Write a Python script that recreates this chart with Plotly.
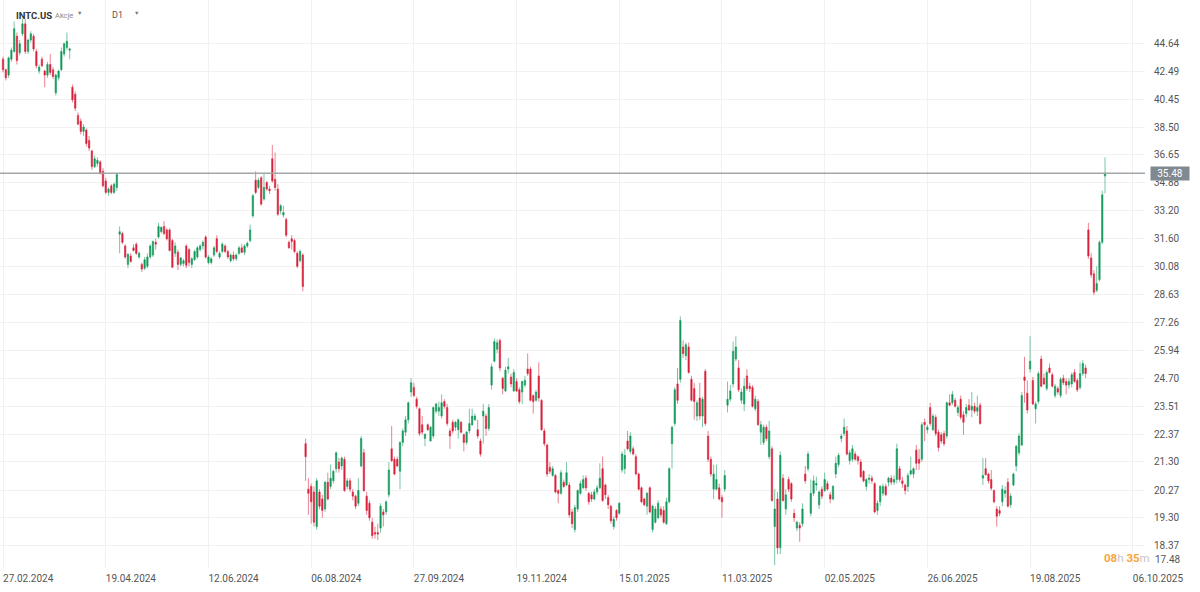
import math
import plotly.graph_objects as go

# INTC.US, swiece dzienne (D1), 27.02.2024 - 26.09.2025, wartosci
open_ = [
    43.4, 42.6, 42.2,  # 2024-02
    43.4, 44.0, 45.2, 43.9, 45.4, 46.2, 44.0, 44.9, 45.2, 44.0, 42.5, 43.4, 42.5, 42.2, 43.0, 42.6, 40.9, 42.0, 42.6, 43.8,  # 2024-03
    44.3, 44.1, 41.3, 40.8, 39.3, 38.9, 38.2, 38.3, 37.6, 36.9, 35.9, 36.1, 36.2, 35.6, 35.0, 34.3, 34.7, 34.3, 34.6, 31.85, 31.9, 31.2,  # 2024-04
    30.2, 30.65, 31.1, 31.3, 30.6, 30.2, 30.0, 30.1, 30.6, 30.7, 31.4, 31.7, 32.0, 32.3, 32.1, 32.1, 31.5, 30.8, 30.85, 30.2, 30.25, 31.2,  # 2024-05
    31.0, 30.2, 30.45, 30.6, 31.0, 31.2, 31.7, 30.3, 30.3, 30.7, 31.6, 30.6, 30.9, 31.2, 30.9, 30.4, 30.7, 30.5, 30.8,  # 2024-06
    31.1, 30.85, 31.2, 31.5, 32.9, 35.05, 34.6, 35.2, 33.9, 34.9, 34.5, 36.4, 35.1, 34.5, 33.2, 32.95, 32.7, 31.4, 31.6, 31.5, 30.8, 30.4,  # 2024-07
    30.7, 22.0, 20.3, 20.4, 20.2, 19.0, 20.2, 19.95, 19.6, 20.55, 20.4, 20.6, 21.05, 21.3, 21.15, 21.4, 20.4, 20.6, 20.2, 20.05, 19.8, 21.15,  # 2024-08
    21.65, 20.05, 19.8, 19.15, 18.8, 18.8, 18.95, 19.5, 19.5, 20.1, 21.8, 21.4, 21.4, 20.95, 22.05, 22.45, 22.95, 24.1, 24.3, 23.8,  # 2024-09
    23.4, 22.75, 22.2, 22.75, 22.1, 22.3, 23.3, 23.3, 23.1, 23.7, 23.45, 22.5, 22.85, 22.65, 22.55, 22.85, 22.35, 22.05, 22.5, 22.75, 22.95, 22.55, 22.1,  # 2024-10
    23.1, 23.1, 22.6, 24.4, 25.45, 26.0, 26.4, 24.7, 24.15, 25.1, 24.75, 24.15, 24.55, 24.2, 24.1, 24.4, 25.1, 25.1, 23.95, 23.75,  # 2024-11
    24.8, 23.75, 22.5, 21.95, 21.1, 20.8, 20.8, 20.25, 20.15, 20.55, 20.45, 20.45, 19.5, 18.9, 19.6, 20.15, 20.35, 20.7, 20.15, 20.1, 19.95,  # 2024-12
    20.2, 20.35, 21.05, 20.45, 20.0, 19.7, 19.0, 19.55, 19.45, 21.0, 21.05, 22.1, 21.7, 21.8, 21.5, 20.85, 20.35, 19.95, 19.7, 20.35,  # 2025-01
    18.9, 19.15, 19.3, 19.6, 19.55, 19.1, 19.85, 22.0, 22.8, 24.45, 24.65, 26.1, 25.7, 26.1, 24.65, 24.25, 23.1, 23.85, 23.1,  # 2025-02
    25.0, 22.3, 21.4, 20.3, 20.3, 20.35, 20.0, 20.3, 23.55, 23.8, 24.45, 25.55, 25.15, 23.75, 23.6, 24.8, 24.35, 24.3, 23.4, 23.7, 22.45,  # 2025-03
    22.05, 22.65, 21.5, 21.8, 19.0, 19.95, 18.3, 20.7, 19.6, 20.65, 20.5, 19.45, 18.95, 19.05, 19.1, 20.85, 21.05, 19.45, 20.15, 20.45, 19.75,  # 2025-04
    20.3, 20.25, 20.5, 20.1, 19.95, 20.85, 21.2, 22.2, 22.4, 22.5, 21.35, 21.4, 21.6, 21.5, 21.3, 20.95, 20.4, 20.65, 20.7, 20.5, 19.55,  # 2025-05
    19.85, 20.15, 20.4, 20.55, 20.7, 20.55, 20.65, 21.05, 20.6, 20.45, 20.4, 20.85, 20.85, 21.75, 21.4, 21.4, 22.85, 22.55, 23.45, 22.55,  # 2025-06
    23.05, 22.45, 22.35, 22.4, 22.3, 23.65, 23.65, 23.75, 23.25, 23.8, 23.15, 23.2, 23.55, 23.35, 23.5, 23.3, 23.55, 20.7, 21.05, 20.85, 20.65, 20.25,  # 2025-07
    19.6, 19.55, 19.85, 20.15, 20.55, 19.75, 20.45, 21.15, 21.65, 21.95, 24.75, 24.05, 25.1, 24.6, 23.4, 23.7, 25.55, 24.7, 24.25, 25.15, 24.85,  # 2025-08
    23.95, 24.25, 23.95, 24.7, 24.55, 24.4, 24.45, 24.95, 24.6, 24.3, 24.9, 25.15, 32.1, 30.55, 29.7, 28.85, 29.4, 31.4, 35.3,  # 2025-09
]
high = [
    43.6, 42.7, 43.6,
    44.3, 46.4, 45.5, 44.9, 46.6, 46.6, 45.0, 45.6, 45.4, 44.2, 43.0, 43.6, 42.6, 43.2, 43.8, 42.8, 42.3, 42.6, 44.3, 44.7,
    45.5, 44.3, 41.5, 41.0, 39.5, 39.1, 38.7, 38.4, 37.9, 37.0, 36.6, 36.5, 36.3, 35.8, 35.2, 34.6, 34.8, 34.9, 35.5, 32.3, 32.0, 31.3,
    30.8, 30.8, 31.3, 31.4, 30.9, 30.3, 30.6, 30.8, 31.3, 31.5, 31.6, 32.5, 32.3, 32.6, 32.2, 32.2, 31.6, 31.4, 31.0, 30.6, 30.5, 31.3,
    31.1, 30.6, 31.0, 31.2, 31.3, 31.5, 31.8, 30.7, 30.6, 31.2, 31.8, 30.9, 31.4, 31.3, 31.0, 30.8, 30.9, 30.8, 31.2,
    31.3, 31.3, 31.45, 32.4, 34.2, 35.6, 35.2, 35.3, 35.5, 35.0, 34.7, 37.3, 36.8, 34.8, 33.6, 33.5, 32.8, 31.5, 31.8, 31.6, 30.9, 31.0,
    30.8, 22.2, 20.7, 20.5, 20.4, 20.7, 20.3, 20.1, 20.6, 20.9, 21.2, 21.0, 21.7, 21.45, 21.5, 21.5, 20.7, 20.7, 20.3, 20.1, 20.7, 22.3,
    21.8, 20.2, 19.9, 19.3, 19.0, 19.1, 19.8, 19.6, 19.9, 21.3, 22.7, 21.5, 21.5, 22.1, 22.6, 23.1, 23.7, 24.7, 24.5, 23.9,
    23.45, 23.1, 22.4, 22.8, 22.7, 23.5, 23.65, 23.7, 24.0, 23.8, 23.6, 22.6, 22.95, 22.9, 23.0, 22.9, 22.4, 22.5, 23.4, 23.4, 23.2, 22.95, 22.2,
    23.6, 23.2, 23.6, 25.35, 26.5, 26.45, 26.5, 24.75, 25.2, 25.6, 24.9, 25.1, 24.7, 24.3, 24.6, 24.8, 25.8, 25.2, 24.0, 24.2,
    25.4, 23.8, 22.6, 22.0, 21.3, 21.15, 20.85, 20.3, 21.0, 20.65, 21.3, 20.55, 19.6, 19.75, 20.3, 20.6, 20.8, 20.8, 20.2, 20.2, 20.3,
    20.45, 21.25, 21.5, 20.5, 20.1, 19.75, 19.35, 19.6, 19.85, 21.7, 21.8, 22.5, 22.45, 21.9, 21.6, 20.9, 20.4, 20.0, 20.2, 20.4,
    19.75, 19.7, 19.9, 19.7, 19.7, 20.0, 21.1, 22.7, 24.3, 25.15, 27.55, 26.4, 26.3, 26.3, 24.8, 24.5, 23.75, 24.5, 23.9,
    25.1, 22.5, 21.5, 21.2, 21.2, 20.5, 20.1, 21.0, 24.55, 24.4, 26.35, 26.6, 25.5, 24.25, 24.7, 25.1, 24.5, 24.4, 23.95, 23.8, 22.9,
    22.75, 22.75, 22.9, 21.9, 20.3, 20.2, 21.7, 20.85, 20.3, 20.75, 20.55, 19.6, 19.2, 19.15, 19.8, 21.15, 21.7, 20.65, 20.8, 20.75, 20.25,
    20.4, 20.9, 20.6, 20.2, 20.45, 21.5, 21.65, 22.4, 23.0, 22.7, 21.75, 21.95, 21.7, 21.55, 21.4, 21.0, 20.7, 20.85, 20.8, 20.55, 19.9,
    20.45, 20.5, 20.5, 20.75, 20.8, 20.8, 22.0, 21.15, 20.75, 20.5, 20.9, 21.5, 21.1, 21.95, 21.8, 22.85, 23.0, 22.75, 23.65, 23.2,
    23.15, 22.55, 22.45, 22.5, 23.7, 24.0, 24.15, 23.85, 23.55, 23.95, 23.3, 23.6, 23.8, 24.1, 23.65, 23.95, 23.65, 21.45, 21.45, 20.9, 21.0, 20.3,
    19.7, 19.7, 20.45, 20.4, 20.7, 20.15, 20.9, 21.95, 22.4, 24.1, 25.65, 24.6, 26.6, 24.75, 23.7, 25.0, 25.7, 24.9, 25.05, 25.35, 24.95,
    24.45, 24.35, 24.75, 24.85, 24.7, 24.7, 24.95, 25.1, 24.7, 25.4, 25.5, 25.3, 32.5, 30.8, 29.9, 30.1, 31.5, 34.4, 36.5,
]
low = [
    42.4, 41.8, 42.0,
    43.2, 43.9, 43.0, 43.7, 45.2, 43.8, 43.8, 44.7, 44.0, 42.7, 42.3, 42.8, 41.3, 42.0, 42.2, 41.9, 40.7, 41.8, 42.5, 43.6,
    44.1, 43.4, 40.2, 39.6, 38.6, 38.0, 37.9, 37.2, 36.9, 35.7, 35.8, 35.9, 35.4, 34.6, 34.2, 34.1, 34.2, 34.2, 34.4, 30.8, 31.3, 30.5,
    30.0, 30.3, 30.9, 30.7, 30.5, 29.8, 29.9, 30.0, 30.5, 30.6, 31.0, 31.6, 31.9, 31.8, 31.5, 30.9, 30.0, 30.6, 29.9, 30.1, 30.1, 30.0,
    30.1, 30.0, 30.4, 30.5, 30.9, 31.0, 30.5, 30.2, 30.2, 30.6, 30.8, 30.5, 30.8, 30.8, 30.5, 30.3, 30.4, 30.4, 30.7,
    30.8, 30.7, 31.1, 31.4, 32.8, 34.2, 34.5, 33.5, 33.8, 34.4, 34.2, 34.9, 34.4, 32.9, 33.0, 32.8, 31.7, 31.05, 31.0, 30.8, 30.0, 30.3,
    28.8, 20.6, 19.4, 19.1, 19.0, 18.9, 19.6, 19.3, 19.5, 19.9, 20.3, 20.5, 20.9, 20.9, 21.0, 20.2, 20.3, 20.2, 19.9, 19.6, 19.7, 21.1,
    20.2, 19.4, 19.2, 18.6, 18.6, 18.55, 18.8, 19.0, 19.4, 20.0, 21.3, 20.8, 21.1, 20.3, 21.9, 22.3, 22.8, 23.9, 23.9, 23.4,
    22.3, 22.35, 21.9, 22.5, 22.1, 22.2, 23.2, 23.1, 23.0, 23.4, 22.7, 21.8, 22.4, 22.5, 22.2, 22.4, 21.7, 21.95, 22.4, 22.7, 22.9, 22.2, 21.5,
    22.0, 22.3, 22.5, 24.2, 25.4, 25.8, 25.0, 24.0, 24.1, 24.9, 24.3, 24.1, 24.1, 23.6, 23.6, 24.3, 24.8, 23.7, 23.2, 23.7,
    23.7, 22.5, 21.9, 20.75, 20.85, 20.75, 20.15, 19.8, 20.1, 20.35, 20.4, 19.3, 18.95, 18.8, 19.5, 20.1, 20.3, 20.25, 19.75, 19.85, 19.9,
    20.1, 20.3, 19.85, 19.95, 19.6, 19.1, 18.9, 19.2, 19.4, 20.9, 20.85, 21.75, 21.6, 21.55, 20.8, 20.25, 19.8, 19.7, 19.4, 19.45,
    18.8, 19.1, 19.25, 19.3, 19.1, 19.05, 19.8, 21.05, 22.7, 23.6, 24.5, 25.6, 25.5, 24.9, 23.7, 22.95, 22.9, 22.95, 22.65,
    22.7, 21.3, 20.75, 19.95, 20.25, 19.9, 19.3, 20.2, 23.25, 23.7, 24.3, 25.45, 24.1, 23.6, 23.3, 24.15, 24.1, 23.45, 23.3, 22.7, 21.95,
    21.95, 22.1, 21.4, 19.85, 17.75, 18.1, 18.1, 19.85, 19.4, 20.2, 19.85, 19.15, 18.85, 18.5, 19.0, 20.5, 20.95, 19.35, 20.05, 20.25, 19.6,
    19.95, 20.2, 20.25, 19.8, 19.9, 20.7, 21.1, 22.05, 22.3, 21.55, 21.2, 21.3, 21.35, 21.2, 20.7, 20.55, 20.25, 20.5, 20.5, 19.45, 19.4,
    19.7, 20.05, 20.05, 20.4, 20.45, 20.45, 20.5, 20.55, 20.35, 20.1, 20.2, 20.8, 20.7, 21.0, 21.0, 21.3, 22.1, 22.4, 22.7, 22.5,
    22.3, 21.7, 22.0, 21.9, 22.2, 23.5, 23.55, 23.45, 23.1, 22.95, 22.35, 23.05, 23.3, 23.05, 23.2, 23.1, 22.75, 20.45, 20.8, 20.5, 20.25, 19.8,
    19.0, 19.35, 19.7, 20.0, 19.65, 19.65, 20.4, 20.95, 21.55, 21.9, 23.65, 23.2, 24.95, 23.55, 22.8, 23.6, 24.3, 24.4, 24.15, 24.9, 24.3,
    23.85, 24.0, 23.85, 24.4, 24.0, 24.25, 24.3, 24.5, 24.1, 24.2, 24.8, 24.7, 30.5, 29.5, 28.6, 28.75, 29.3, 31.3, 34.25,
]
close = [
    42.6, 42.0, 43.5,
    44.1, 45.8, 43.3, 44.6, 46.2, 44.0, 44.9, 45.4, 44.2, 42.9, 42.8, 42.9, 42.2, 43.0, 42.4, 42.1, 42.2, 42.5, 44.0, 44.6,
    44.8, 44.2, 40.4, 39.8, 38.7, 38.2, 38.5, 37.4, 37.1, 35.9, 36.4, 36.3, 35.5, 34.7, 34.3, 34.5, 34.3, 34.8, 35.4, 32.0, 31.4, 30.6,
    30.75, 30.35, 30.95, 30.8, 30.8, 29.95, 30.45, 30.6, 31.2, 31.45, 31.3, 32.3, 32.25, 31.9, 31.6, 30.95, 30.05, 31.2, 30.2, 30.55, 30.4, 30.15,
    30.3, 30.5, 30.9, 31.1, 31.2, 31.4, 30.6, 30.6, 30.5, 31.1, 30.9, 30.8, 31.3, 30.9, 30.6, 30.7, 30.5, 30.7, 31.1,
    30.85, 31.2, 31.35, 32.1, 34.1, 34.3, 35.05, 33.6, 34.6, 34.5, 34.4, 35.0, 34.6, 33.0, 33.5, 33.1, 31.8, 31.1, 31.45, 30.9, 30.1, 30.9,
    29.05, 21.5, 20.15, 19.85, 19.15, 20.6, 19.7, 19.55, 20.55, 19.95, 20.7, 20.95, 21.65, 21.05, 21.45, 20.25, 20.6, 20.3, 20.05, 19.7, 20.25, 22.2,
    20.25, 19.55, 19.3, 18.7, 18.75, 18.75, 19.7, 19.4, 19.85, 21.0, 21.35, 20.85, 21.15, 22.05, 22.5, 22.95, 23.65, 24.5, 23.95, 23.5,
    22.4, 22.45, 22.37, 22.55, 22.65, 23.45, 23.6, 23.45, 23.65, 23.5, 22.8, 22.3, 22.5, 22.85, 22.95, 22.45, 22.05, 22.45, 22.8, 23.1, 23.1, 22.3, 21.6,
    23.3, 22.6, 23.45, 25.2, 26.35, 26.3, 25.15, 24.25, 25.05, 25.2, 24.45, 24.95, 24.15, 23.7, 24.55, 24.6, 24.9, 23.75, 23.7, 24.1,
    23.85, 22.55, 22.0, 20.85, 20.95, 21.05, 20.2, 20.15, 20.9, 20.4, 20.9, 19.4, 19.1, 19.65, 20.25, 20.5, 20.65, 20.35, 19.85, 19.95, 20.2,
    20.35, 20.7, 19.9, 20.1, 19.75, 19.2, 19.25, 19.3, 19.8, 21.6, 21.55, 21.8, 22.3, 21.6, 20.85, 20.3, 19.85, 19.75, 20.15, 19.5,
    19.7, 19.6, 19.8, 19.4, 19.15, 19.85, 21.05, 22.65, 24.2, 23.75, 27.35, 25.8, 26.2, 24.95, 23.75, 23.7, 23.65, 23.1, 23.8,
    22.8, 21.4, 20.85, 20.85, 20.65, 19.95, 19.85, 20.8, 23.8, 24.15, 25.9, 26.1, 24.2, 24.1, 24.35, 24.25, 24.25, 23.5, 23.8, 22.75, 22.75,
    22.65, 22.2, 22.5, 19.9, 19.6, 18.3, 21.55, 19.9, 20.1, 20.3, 19.95, 19.3, 19.15, 18.95, 19.6, 20.6, 21.6, 20.15, 20.6, 20.5, 20.2,
    20.05, 20.65, 20.3, 19.95, 20.4, 21.25, 21.55, 22.3, 22.65, 21.6, 21.65, 21.8, 21.4, 21.35, 20.75, 20.6, 20.65, 20.7, 20.6, 19.5, 19.8,
    20.4, 20.4, 20.1, 20.7, 20.55, 20.65, 21.8, 20.65, 20.5, 20.25, 20.8, 20.98, 21.05, 21.25, 21.25, 22.75, 22.75, 22.65, 22.8, 23.1,
    22.4, 21.85, 22.1, 22.0, 23.65, 23.55, 24.0, 23.5, 23.45, 23.05, 22.85, 23.45, 23.35, 23.5, 23.3, 23.45, 22.8, 20.8, 20.82, 20.6, 20.33, 19.85,
    19.35, 19.45, 20.3, 20.25, 19.7, 20.05, 20.85, 21.9, 22.3, 23.95, 24.6, 23.35, 25.45, 23.6, 23.6, 24.9, 24.35, 24.45, 24.95, 24.95, 24.35,
    24.35, 24.1, 24.65, 24.5, 24.4, 24.55, 24.85, 24.55, 24.2, 24.9, 25.35, 24.9, 30.65, 29.65, 28.75, 29.2, 31.4, 34.15, 35.48,
]

# etykiety osi czasu: co 37 sesji, ostatnia juz w przyszlosci
date_labels = ["27.02.2024", "19.04.2024", "12.06.2024", "06.08.2024", "27.09.2024", "19.11.2024",
               "15.01.2025", "11.03.2025", "02.05.2025", "26.06.2025", "19.08.2025", "06.10.2025"]
label_step = 37

price_levels = [44.64, 42.49, 40.45, 38.50, 36.65, 34.88, 33.20, 31.60, 30.08, 28.63,
                27.26, 25.94, 24.70, 23.51, 22.37, 21.30, 20.27, 19.30, 18.37, 17.48]

assert len(open_) == len(high) == len(low) == len(close)

last_price = close[-1]
x = list(range(len(close)))

GREEN = "#12995a"
RED = "#d8203a"
TAG = "#80898f"

# rozmiar obszaru wykresu w pikselach (do pozycjonowania napisow)
PLOT_W = 1145
PLOT_H = 568


def px(v):
    return v / PLOT_W


def py(v):
    return 1 - v / PLOT_H


fig = go.Figure()

# linia ostatniej ceny
fig.add_trace(go.Scatter(
    x=[-5, len(close) + 30], y=[last_price, last_price], mode="lines",
    line=dict(color="#a2a6aa", width=1.4), hoverinfo="skip", showlegend=False))

fig.add_trace(go.Candlestick(
    x=x, open=open_, high=high, low=low, close=close,
    increasing=dict(line=dict(color="rgba(18,153,90,0.7)", width=0.8), fillcolor=GREEN),
    decreasing=dict(line=dict(color="rgba(216,32,58,0.7)", width=0.8), fillcolor=RED),
    whiskerwidth=0, showlegend=False, hoverinfo="skip"))

# grot etykiety ceny
fig.add_trace(go.Scatter(
    x=[len(close) + 14.6], y=[last_price], mode="markers", cliponaxis=False,
    marker=dict(symbol="triangle-left", size=9, color=TAG),
    hoverinfo="skip", showlegend=False))

fig.update_layout(
    width=1200, height=592,
    margin=dict(l=0, r=55, t=0, b=24, pad=0),
    paper_bgcolor="white", plot_bgcolor="white",
    font=dict(family="Roboto, sans-serif", size=10, color="#555"),
    showlegend=False,
    boxgap=0.28,
    xaxis=dict(
        range=[-1.1, 411.4],
        tickvals=[i * label_step for i in range(len(date_labels))],
        ticktext=date_labels,
        ticklabelposition="outside right",
        ticklabelstandoff=3,
        showgrid=True, gridcolor="#f1f1f1", zeroline=False, showline=False, ticks="",
        rangeslider=dict(visible=False),
        automargin=False,
        tickfont=dict(size=10, color="#555"),
    ),
    yaxis=dict(
        type="log", side="right",
        range=[math.log10(17.66), math.log10(48.19)],
        tickvals=price_levels,
        ticktext=[f"{p:.2f}" for p in price_levels],
        showgrid=True, gridcolor="#f1f1f1", zeroline=False, showline=False, ticks="",
        ticklabelstandoff=8,
        automargin=False,
        tickfont=dict(size=10, color="#555"),
    ),
)

notes = [
    dict(x=px(14), y=py(15), text="<b>INTC.US</b>", font=dict(size=9.5, color="#333")),
    dict(x=px(53), y=py(16), text="Akcje", font=dict(size=7.5, color="#8a8a8a")),
    dict(x=px(75), y=py(13), text="▼", font=dict(size=5.5, color="#777")),
    dict(x=px(110), y=py(15), text="D1", font=dict(size=9, color="#555")),
    dict(x=px(132), y=py(13), text="▼", font=dict(size=5.5, color="#777")),
    dict(x=px(1102), y=py(558),
         text="<span style='color:#f6a53c'><b>08</b></span><span style='color:#c4c4c4'>h </span>"
              "<span style='color:#f6a53c'><b>35</b></span><span style='color:#c4c4c4'>m</span>",
         font=dict(size=11.5)),
    dict(x=1, y=py(559), xshift=8, text="17.48", font=dict(size=10, color="#555")),
]
for n in notes:
    fig.add_annotation(xref="paper", yref="paper", xanchor="left", yanchor="middle",
                       showarrow=False, **n)

# etykieta ostatniej ceny
fig.add_annotation(
    xref="paper", yref="y", x=1, y=math.log10(last_price), xshift=5,
    xanchor="left", yanchor="middle", showarrow=False,
    text=f"{last_price:.2f}", font=dict(size=10, color="white"),
    bgcolor=TAG, borderpad=1, width=36, height=11)

# strona bez domyslnego marginesu przegladarki, bez paska narzedzi
fig.write_html("out.html", config={"displayModeBar": False},
               post_script="document.body.style.margin='0';")
